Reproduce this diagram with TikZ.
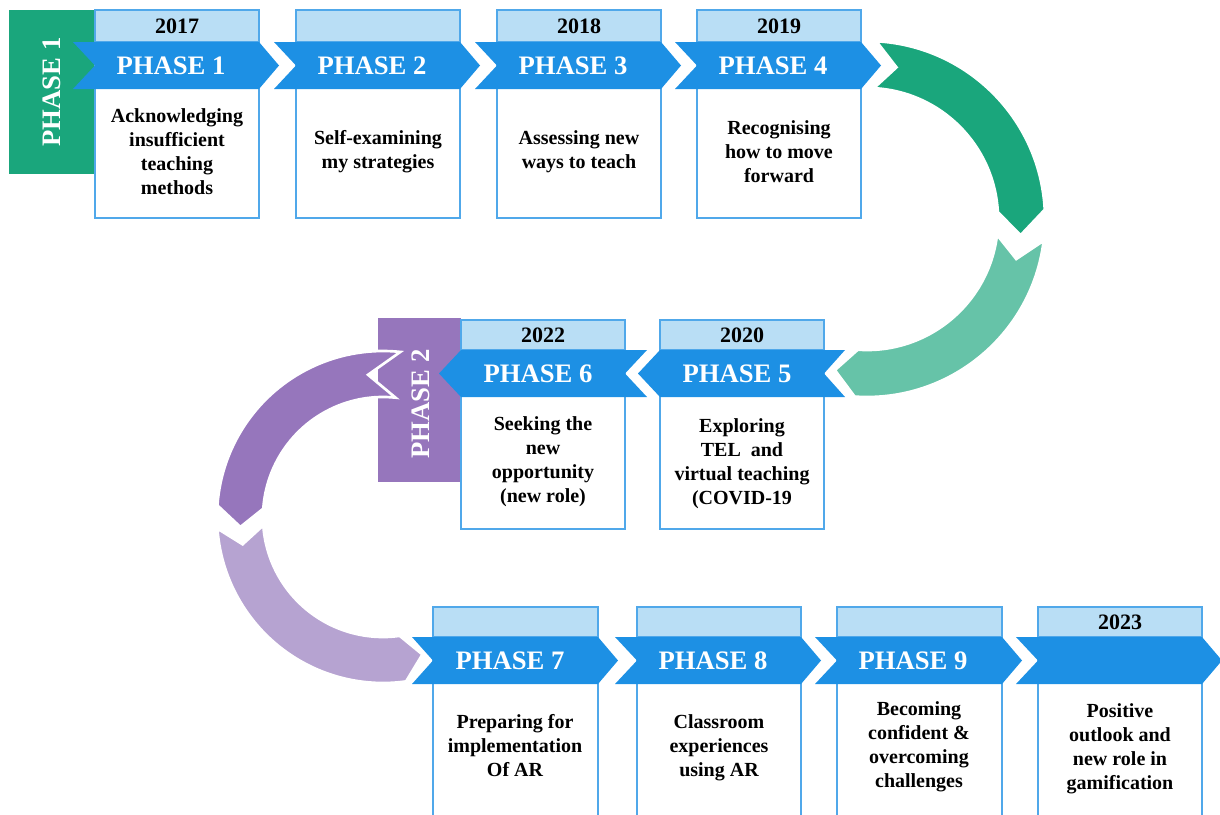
\documentclass[tikz,border=0pt]{standalone}
\usepackage{fontspec}
\setmainfont{Liberation Serif}
\definecolor{chevblue}{RGB}{29,144,228}
\definecolor{yearfill}{RGB}{185,222,245}
\definecolor{boxline}{RGB}{80,168,234}
\definecolor{greendark}{RGB}{26,166,124}
\definecolor{greenlight}{RGB}{102,195,168}
\definecolor{purpledark}{RGB}{150,118,188}
\definecolor{purplelight}{RGB}{182,163,209}
\begin{document}
\begin{tikzpicture}[x=0.75pt,y=-0.75pt,
		body/.style={draw=boxline,fill=white,line width=1.2pt},
		hdr/.style={draw=boxline,fill=yearfill,line width=1.2pt},
		chev/.style={fill=chevblue},
		ring/.style={draw=white,line width=2pt},
		phase/.style={text=white,font=\fontsize{20}{24}\selectfont\bfseries},
		year/.style={font=\fontsize{16.5}{20}\selectfont\bfseries},
		txt/.style={align=center,font=\fontsize{15}{18}\selectfont\bfseries}]
		\useasboundingbox (0,0) rectangle (1220,814);
		
		\coordinate (G) at (867,219);
		\coordinate (V) at (383,517);
		
		\fill[greendark] (9,10) rectangle (95,174);
		\node[phase,rotate=90] (side1) at (52,92) {PHASE 1};
		
		\draw[body] (95,42) rectangle (259,218);
		\draw[hdr] (95,10) rectangle (259,42);
		\fill[chev] (73,42) -- (259,42) -- (279,65.5) -- (259,89) -- (73,89) -- (95,65.5) -- cycle;
		\node[year] (y1) at (177,26) {2017};
		\node[phase] (p1) at (171,65.5) {PHASE 1};
		\node[txt] (t1) at (177,152) {Acknowledging\\insufficient\\teaching\\methods};
		
		\draw[body] (296,42) rectangle (460,218);
		\draw[hdr] (296,10) rectangle (460,42);
		\fill[chev] (274,42) -- (460,42) -- (480,65.5) -- (460,89) -- (274,89) -- (296,65.5) -- cycle;
		\node[phase] (p2) at (372,65.5) {PHASE 2};
		\node[txt] (t2) at (378,152) {Self-examining\\my strategies};
		
		\draw[body] (497,42) rectangle (661,218);
		\draw[hdr] (497,10) rectangle (661,42);
		\fill[chev] (475,42) -- (661,42) -- (681,65.5) -- (661,89) -- (475,89) -- (497,65.5) -- cycle;
		\node[year] (y3) at (579,26) {2018};
		\node[phase] (p3) at (573,65.5) {PHASE 3};
		\node[txt] (t3) at (579,152) {Assessing new\\ways to teach};
		
		\draw[body] (697,42) rectangle (861,218);
		\draw[hdr] (697,10) rectangle (861,42);
		\fill[chev] (675,42) -- (861,42) -- (881,65.5) -- (861,89) -- (675,89) -- (697,65.5) -- cycle;
		\node[year] (y4) at (779,26) {2019};
		\node[phase] (p4) at (773,65.5) {PHASE 4};
		\node[txt] (t4) at (779,152) {Recognising\\how to move\\forward};
		
		\begin{scope}[shift={(G)}]
		\fill[greendark,ring] (-87:178) arc[start angle=-87, end angle=-3, radius=178] -- (6:154.5)
			-- (-3:131) arc[start angle=-3, end angle=-87, radius=131] -- (-79:154.5) -- cycle;
		\fill[greenlight,ring] (7:178) arc[start angle=7, end angle=94, radius=178] -- (102:154.5)
			-- (94:131) arc[start angle=94, end angle=7, radius=131] -- (15:154.5) -- cycle;
		\end{scope}
		
		\draw[body] (660,350) rectangle (824,529);
		\draw[hdr] (660,320) rectangle (824,350);
		\fill[chev] (845,350) -- (660,350) -- (638,373.5) -- (660,397) -- (845,397) -- (824,373.5) -- cycle;
		\node[year] (y5) at (742,335) {2020};
		\node[phase] (p5) at (737,373.5) {PHASE 5};
		\node[txt] (t5) at (742,464) {Exploring\\TEL~ and\\virtual teaching\\(COVID-19};
		
		\fill[purpledark] (378,318) rectangle (461,482);
		\begin{scope}[shift={(V)}]
		\fill[purpledark,ring] (-84:166) arc[start angle=-84, end angle=-176, radius=166] -- (-184:143)
			-- (-176:120) arc[start angle=-176, end angle=-84, radius=120] -- (-96:143) -- cycle;
		\fill[purplelight,ring] (-184:166) arc[start angle=-184, end angle=-278, radius=166] -- (-286:143)
			-- (-278:120) arc[start angle=-278, end angle=-184, radius=120] -- (-191:143) -- cycle;
		\end{scope}
		\node[phase,rotate=90] (side2) at (421,404) {PHASE 2};
		
		\draw[body] (461,350) rectangle (625,529);
		\draw[hdr] (461,320) rectangle (625,350);
		\fill[chev] (647,350) -- (461,350) -- (439,373.5) -- (461,397) -- (647,397) -- (625,373.5) -- cycle;
		\node[year] (y6) at (543,335) {2022};
		\node[phase] (p6) at (538,373.5) {PHASE 6};
		\node[txt] (t6) at (543,462) {Seeking the\\new\\opportunity\\(new role)};
		
		\draw[body] (433,637) rectangle (598,818);
		\draw[hdr] (433,607) rectangle (598,637);
		\fill[chev] (412,637) -- (598,637) -- (618,660.5) -- (598,684) -- (412,684) -- (433,660.5) -- cycle;
		\node[phase] (p7) at (510,660.5) {PHASE 7};
		\node[txt] (t7) at (515,746) {Preparing for\\implementation\\Of AR};
		
		\draw[body] (637,637) rectangle (801,818);
		\draw[hdr] (637,607) rectangle (801,637);
		\fill[chev] (615,637) -- (801,637) -- (821,660.5) -- (801,684) -- (615,684) -- (637,660.5) -- cycle;
		\node[phase] (p8) at (713,660.5) {PHASE 8};
		\node[txt] (t8) at (719,748) {Classroom\\experiences\\using AR};
		
		\draw[body] (837,637) rectangle (1002,818);
		\draw[hdr] (837,607) rectangle (1002,637);
		\fill[chev] (815,637) -- (1002,637) -- (1022,660.5) -- (1002,684) -- (815,684) -- (837,660.5) -- cycle;
		\node[phase] (p9) at (913,660.5) {PHASE 9};
		\node[txt] (t9) at (919,747) {Becoming\\confident \&\\overcoming\\challenges};
		
		\draw[body] (1038,637) rectangle (1202,818);
		\draw[hdr] (1038,607) rectangle (1202,637);
		\fill[chev] (1016,637) -- (1202,637) -- (1222,660.5) -- (1202,684) -- (1016,684) -- (1038,660.5) -- cycle;
		\node[year] (y10) at (1120,622) {2023};
		\node[txt] (t10) at (1120,749) {Positive\\outlook and\\new role in\\gamification};
		\end{tikzpicture}
\end{document}
